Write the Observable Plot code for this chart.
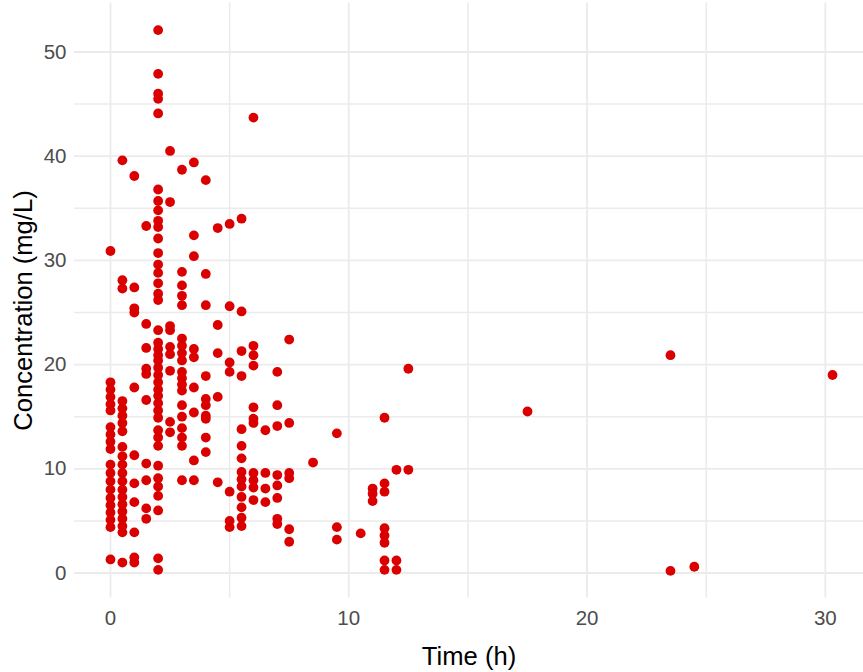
<!DOCTYPE html>
<html><head><meta charset="utf-8">
<script src="https://cdn.jsdelivr.net/npm/d3@7"></script>
<script src="https://cdn.jsdelivr.net/npm/@observablehq/plot@0.6"></script>
<style>
body{margin:0;background:#fff;}
#chart svg{display:block;}
</style>
</head><body><div id="chart"></div>
<script>
// Sampling times (h)
const timePoints = [0, 0.5, 1, 1.5, 2, 2.5, 3, 3.5, 4, 4.5, 5, 5.5, 6, 6.5, 7, 7.5, 8.5, 9.5, 10.5, 11, 11.5, 12, 12.5, 17.5, 23.5, 24.5, 30.3];
// Concentrations (mg/L) observed at each sampling time, same order as timePoints
const concentrations = [
  [30.9, 18.3, 17.6, 16.9, 16.2, 15.6, 14.0, 13.3, 12.6, 11.9, 10.4, 9.6, 8.8, 8.0, 7.2, 6.5, 5.8, 5.1, 4.4, 1.3],
  [39.6, 28.1, 27.3, 16.5, 15.8, 15.1, 14.4, 13.6, 12.1, 11.2, 10.4, 9.6, 8.8, 8.0, 7.3, 6.6, 5.9, 5.2, 4.5, 3.9, 1.0],
  [38.1, 27.4, 25.4, 25.0, 17.8, 11.3, 8.6, 6.8, 3.9, 1.5, 1.0],
  [33.3, 23.9, 21.6, 19.6, 19.1, 16.6, 10.5, 8.9, 6.2, 5.2],
  [52.1, 47.9, 46.0, 45.5, 44.1, 36.8, 35.7, 34.8, 33.8, 33.2, 32.1, 30.7, 29.6, 28.8, 27.8, 26.8, 26.2, 23.3, 22.1, 21.5, 20.9, 20.4, 19.7, 19.0, 18.3, 17.6, 17.0, 16.3, 15.6, 14.9, 13.7, 13.0, 12.2, 10.3, 9.1, 8.3, 7.4, 6.0, 1.4, 0.3],
  [40.5, 35.6, 23.7, 23.3, 21.7, 21.0, 19.4, 14.5, 13.5],
  [38.7, 28.9, 27.6, 26.6, 25.7, 22.5, 21.8, 21.1, 20.4, 19.3, 18.7, 18.1, 17.5, 16.1, 15.0, 13.9, 13.0, 12.2, 8.9],
  [39.4, 32.4, 30.4, 21.5, 20.7, 17.8, 15.4, 10.8, 8.9],
  [37.7, 28.7, 25.7, 18.9, 16.7, 16.1, 15.1, 14.8, 13.0, 11.6],
  [33.1, 23.8, 21.1, 16.9, 8.7],
  [33.5, 25.6, 20.2, 19.3, 7.8, 5.0, 4.4],
  [34.0, 25.1, 21.3, 18.9, 13.8, 12.2, 11.0, 9.7, 9.0, 8.3, 7.3, 6.3, 5.3, 4.5],
  [43.7, 21.8, 20.9, 19.9, 15.9, 14.8, 14.4, 9.6, 8.9, 8.2, 7.0],
  [13.7, 9.6, 8.1, 6.8],
  [19.3, 16.1, 14.1, 9.4, 8.4, 7.2, 5.2, 4.7],
  [22.4, 14.4, 9.6, 9.1, 4.2, 3.0],
  [10.6],
  [13.4, 4.4, 3.2],
  [3.8],
  [8.1, 7.6, 6.9],
  [14.9, 8.6, 7.8, 4.3, 3.6, 2.9, 1.2, 0.3],
  [9.9, 1.2, 0.3],
  [19.6, 9.9],
  [15.5],
  [20.9, 0.2],
  [0.6],
  [19.0]
];
const xTicks = [0, 10, 20, 30];
const xMinor = [5, 15, 25];
const yTicks = [0, 10, 20, 30, 40, 50];
const yMinor = [5, 15, 25, 35, 45];
const xTitle = "Time (h)";
const yTitle = "Concentration (mg/L)";

const obs = timePoints.flatMap((t, i) => concentrations[i].map(c => ({time: t, conc: c})));

const gridColor = "#EBEBEB";
const chart = Plot.plot({
  width: 863,
  height: 672,
  marginLeft: 74,
  marginRight: 0,
  marginTop: 2.5,
  marginBottom: 74.5,
  style: {fontFamily: "'Liberation Sans', Arial, sans-serif", background: "#fff"},
  x: {domain: [-1.51, 31.6]},
  y: {domain: [-2.4, 54.7]},
  marks: [
    Plot.ruleY(yMinor, {stroke: gridColor, strokeWidth: 1.5}),
    Plot.ruleX(xMinor, {stroke: gridColor, strokeWidth: 1.5}),
    Plot.ruleY(yTicks, {stroke: gridColor, strokeWidth: 1.8}),
    Plot.ruleX(xTicks, {stroke: gridColor, strokeWidth: 1.8}),
    Plot.axisX({ticks: xTicks, tickSize: 0, tickPadding: 12, label: null, fontSize: 20.5, color: "#4D4D4D"}),
    Plot.axisY({ticks: yTicks, tickSize: 0, tickPadding: 8, label: null, fontSize: 20.5, color: "#4D4D4D"}),
    Plot.dot(obs, {x: "time", y: "conc", r: 4.9, fill: "#DA0000", stroke: "none"}),
    Plot.text([xTitle], {frameAnchor: "bottom", textAnchor: "middle", lineAnchor: "middle", dy: 58.5, fontSize: 25.6, fill: "#000"}),
    Plot.text([yTitle], {frameAnchor: "left", textAnchor: "middle", lineAnchor: "middle", rotate: -90, dx: -51, dy: 10, fontSize: 25.6, fill: "#000"})
  ]
});
document.getElementById("chart").append(chart);
</script>
</body></html>
